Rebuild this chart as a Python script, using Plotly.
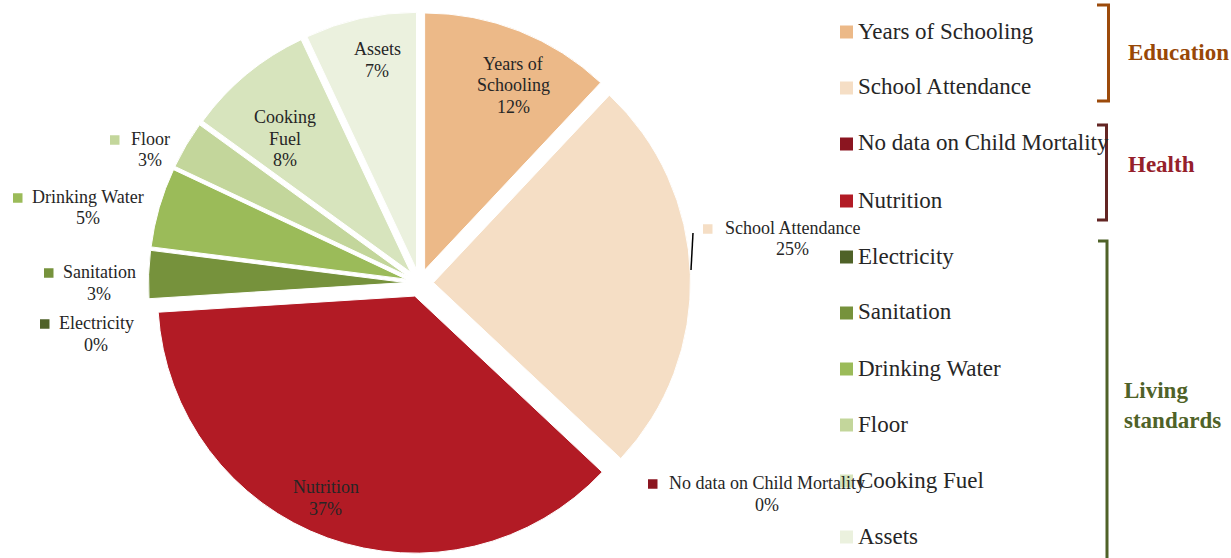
import plotly.graph_objects as go

# ---------------- data ----------------
categories = ["Years of Schooling", "School Attendance", "No data on Child Mortality",
              "Nutrition", "Electricity", "Sanitation", "Drinking Water", "Floor",
              "Cooking Fuel", "Assets"]
values = [12, 25, 0, 37, 0, 3, 5, 3, 8, 7]
groups = ["Education", "Health", "Living standards"]

# ---------------- style ----------------
colors = ["#ECB988", "#F5DEC5", "#8B1520", "#B21B25", "#4F6228", "#76923C",
          "#9BBB59", "#C3D69B", "#D7E4BD", "#EBF1DE"]
FONT = "Liberation Serif"
W, H = 1231, 558


def fx(p):
    return p / W


def fy(p):
    return 1 - p / H


# label placement (pixel positions of text centre / first line)
label_style = {
    "Years of Schooling": dict(kind="in", cx=513, y=64, lines=["Years of", "Schooling"]),
    "School Attendance": dict(kind="out", cx=792, y=228, sq=703),
    "No data on Child Mortality": dict(kind="out", cx=767, y=483, sq=648),
    "Nutrition": dict(kind="in", cx=326, y=487),
    "Electricity": dict(kind="out", cx=96, y=323, sq=40),
    "Sanitation": dict(kind="out", cx=99, y=272, sq=44),
    "Drinking Water": dict(kind="out", cx=88, y=197, sq=13),
    "Floor": dict(kind="out", cx=150, y=139, sq=110),
    "Cooking Fuel": dict(kind="in", cx=285, y=117, lines=["Cooking", "Fuel"]),
    "Assets": dict(kind="in", cx=377, y=49),
}
legend_y = [31, 87, 143, 200, 256, 312, 368, 424, 480, 536]
group_style = [
    dict(x0=1097, x1=1108.5, y0=5, y1=101, col="#9C4A0B", tcol="#984807", tx=1126, ty=53),
    dict(x0=1097, x1=1106.5, y0=125, y1=220, col="#632523", tcol="#95202A", tx=1126, ty=165),
    dict(x0=1098, x1=1107, y0=241, y1=565, col="#4F6228", tcol="#4F6228", tx=1122, ty=405),
]

fig = go.Figure()
fig.add_trace(go.Pie(
    labels=categories,
    values=values,
    sort=False,
    direction="clockwise",
    rotation=0,
    pull=[0.054] * len(values),
    marker=dict(colors=colors, line=dict(color="white", width=1)),
    textinfo="none",
    hoverinfo="label+percent",
    showlegend=False,
    domain=dict(x=[fx(148.5), fx(690.5)], y=[fy(554), fy(12)]),
))

annotations = []
shapes = []
LBL = 18
LINE = 21.5
TXT = "#262626"

for cat, val, col in zip(categories, values, colors):
    st = label_style[cat]
    lines = st.get("lines", [cat]) + [f"{val:.0f}%"]
    for i, ln in enumerate(lines):
        annotations.append(dict(
            x=fx(st["cx"]), y=fy(st["y"] + i * LINE), xref="paper", yref="paper",
            text=ln, showarrow=False, xanchor="center", yanchor="middle",
            font=dict(family=FONT, size=LBL, color=TXT)))
    if st["kind"] == "out":
        s = 9.5
        shapes.append(dict(type="rect", xref="paper", yref="paper",
                           x0=fx(st["sq"]), x1=fx(st["sq"] + s),
                           y0=fy(st["y"] - s / 2 + 1), y1=fy(st["y"] + s / 2 + 1),
                           fillcolor=col, line=dict(width=0)))

# leader line for School Attendance
shapes.append(dict(type="line", xref="paper", yref="paper",
                   x0=fx(693), y0=fy(233), x1=fx(691), y1=fy(270),
                   line=dict(color="black", width=1.5)))

# custom legend
for cat, col, ly in zip(categories, colors, legend_y):
    s = 13
    shapes.append(dict(type="rect", xref="paper", yref="paper",
                       x0=fx(840), x1=fx(840 + s), y0=fy(ly - s / 2 + 1), y1=fy(ly + s / 2 + 1),
                       fillcolor=col, line=dict(width=0)))
    annotations.append(dict(
        x=fx(856), y=fy(ly), xref="paper", yref="paper", text=cat, showarrow=False,
        xanchor="left", yanchor="middle", font=dict(family=FONT, size=23, color=TXT)))

# group brackets and titles
for g, gs in zip(groups, group_style):
    path = (f"M {fx(gs['x0'])} {fy(gs['y0'])} L {fx(gs['x1'])} {fy(gs['y0'])} "
            f"L {fx(gs['x1'])} {fy(gs['y1'])} L {fx(gs['x0'])} {fy(gs['y1'])}")
    shapes.append(dict(type="path", xref="paper", yref="paper", path=path,
                       line=dict(color=gs["col"], width=3)))
    annotations.append(dict(
        x=fx(gs["tx"]), y=fy(gs["ty"]), xref="paper", yref="paper",
        text="<b>" + g.replace(" ", "<br>") + "</b>", showarrow=False,
        xanchor="left", yanchor="middle", align="left",
        font=dict(family=FONT, size=23, color=gs["tcol"])))

fig.update_layout(
    width=W, height=H,
    margin=dict(l=0, r=0, t=0, b=0),
    paper_bgcolor="white", plot_bgcolor="white",
    annotations=annotations, shapes=shapes,
)

fig.write_html("out.html")
